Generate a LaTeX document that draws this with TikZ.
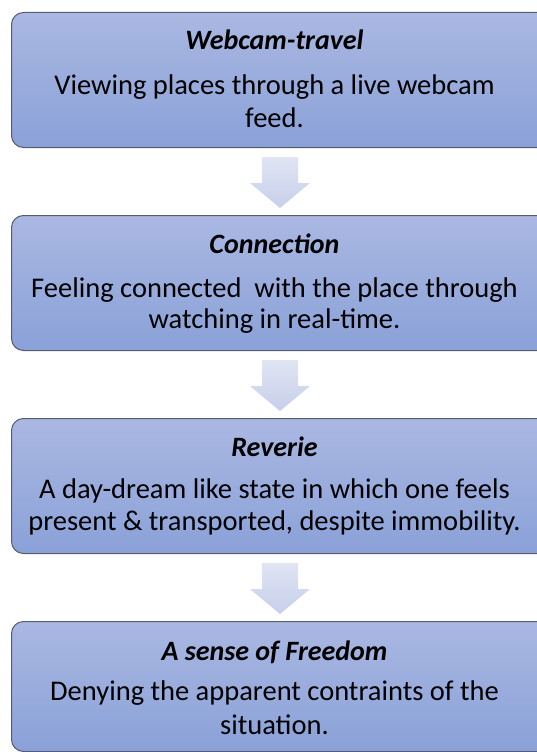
\documentclass[tikz,border=0pt]{standalone}
\usepackage{fontspec}
\setmainfont{Carlito}
\usetikzlibrary{calc}
\begin{document}
\begin{tikzpicture}[x=1pt,y=-1pt,
  stagebox/.style={draw=boxline, line width=1pt, rounded corners=12pt,
    top color=boxtop, bottom color=boxbot,
    minimum width=600pt, inner sep=0pt, anchor=north west},
  titletext/.style={anchor=base, font=\fontsize{28}{32}\selectfont\bfseries\itshape, inner sep=0pt},
  bodytext/.style={anchor=base, font=\fontsize{28.5}{32}\selectfont, inner sep=0pt},
  blockarrow/.style={top color=arrtop, bottom color=arrbot, draw=none}
]
\definecolor{boxtop}{RGB}{170,184,226}
\definecolor{boxbot}{RGB}{138,161,216}
\definecolor{boxline}{RGB}{85,92,110}
\definecolor{arrtop}{RGB}{224,229,243}
\definecolor{arrbot}{RGB}{198,207,235}
\useasboundingbox (0,0) rectangle (537,752);
\clip (0,0) rectangle (537,752);

% boxes
\node[stagebox, minimum height=135pt] (b1) at (11,12) {};
\node[stagebox, minimum height=135pt] (b2) at (11,215) {};
\node[stagebox, minimum height=135pt] (b3) at (11,418) {};
\node[stagebox, minimum height=130pt] (b4) at (11,621) {};

% texts
\node[titletext] (t1) at (274.5,50) {Webcam-travel};
\node[bodytext] (d1a) at (274.5,95) {Viewing places through a live webcam};
\node[bodytext] (d1b) at (274.5,127) {feed.};

\node[titletext] (t2) at (274.5,253) {Connection};
\node[bodytext] (d2a) at (274.5,297) {Feeling connected\ \ with the place through};
\node[bodytext] (d2b) at (274.5,328) {watching in real-time.};

\node[titletext] (t3) at (274.5,456) {Reverie};
\node[bodytext] (d3a) at (274.5,498) {A day-dream like state in which one feels};
\node[bodytext] (d3b) at (274.5,530) {present \& transported, despite immobility.};

\node[titletext] (t4) at (274.5,660) {A sense of Freedom};
\node[bodytext] (d4a) at (274.5,700) {Denying the apparent contraints of the};
\node[bodytext] (d4b) at (274.5,734) {situation.};

% block arrows
\foreach \a in {b1,b2,b3}{
  \coordinate (s) at ($(\a.south west)+(269,0)$);
  \path[blockarrow] ($(s)+(-18,9)$) -- ($(s)+(18,9)$) -- ($(s)+(18,35)$)
    -- ($(s)+(30,35)$) -- ($(s)+(0,60)$) -- ($(s)+(-30,35)$)
    -- ($(s)+(-18,35)$) -- cycle;
}
\end{tikzpicture}
\end{document}
